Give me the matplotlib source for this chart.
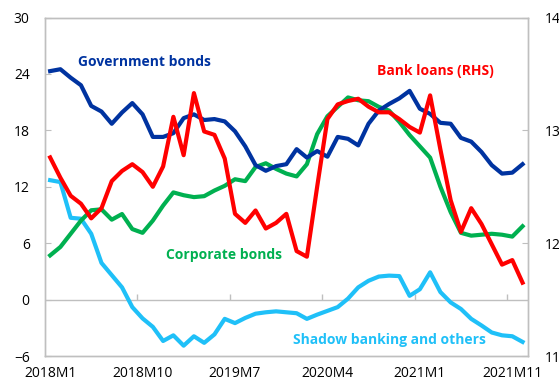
import matplotlib.pyplot as plt

plt.rcParams['font.family'] = ['Open Sans', 'DejaVu Sans']

# Monthly data 2018M1 .. 2021M11 (47 months)
months = list(range(47))

gov_bonds = [24.3, 24.5, 23.6, 22.8, 20.6, 20.0, 18.7, 19.9, 20.9, 19.7,
             17.3, 17.3, 17.7, 19.3, 19.7, 19.1, 19.2, 18.95, 17.9, 16.3,
             14.3, 13.7, 14.2, 14.4, 16.0, 15.1, 15.8, 15.2, 17.3, 17.1,
             16.4, 18.7, 20.1, 20.8, 21.4, 22.2, 20.3, 19.75, 18.8, 18.7,
             17.2, 16.8, 15.7, 14.3, 13.4, 13.5, 14.4]

corp_bonds = [4.7, 5.6, 7.0, 8.4, 9.5, 9.6, 8.5, 9.1, 7.5, 7.1,
              8.4, 10.0, 11.4, 11.1, 10.9, 11.0, 11.6, 12.1, 12.8, 12.6,
              14.1, 14.5, 13.9, 13.4, 13.1, 14.4, 17.6, 19.5, 20.5, 21.5,
              21.2, 21.1, 20.5, 20.1, 18.9, 17.5, 16.3, 15.1, 12.0, 9.3,
              7.1, 6.8, 6.9, 7.0, 6.9, 6.7, 7.8]

shadow = [12.7, 12.5, 8.7, 8.6, 7.0, 3.9, 2.6, 1.3, -0.8, -2.0,
          -2.9, -4.4, -3.8, -4.9, -3.9, -4.6, -3.7, -2.05, -2.5, -1.95,
          -1.5, -1.35, -1.25, -1.35, -1.45, -2.05, -1.6, -1.2, -0.8, 0.1,
          1.3, 2.0, 2.45, 2.55, 2.5, 0.4, 1.1, 2.9, 0.8, -0.3,
          -1.0, -2.05, -2.75, -3.5, -3.8, -3.9, -4.5]

# Bank loans, right-hand scale
bank_loans = [12.76, 12.58, 12.42, 12.35, 12.22, 12.31, 12.55, 12.64, 12.70, 12.63,
              12.50, 12.68, 13.12, 12.78, 13.33, 12.99, 12.96, 12.75, 12.26, 12.18,
              12.29, 12.13, 12.18, 12.26, 11.93, 11.88, 12.50, 13.10, 13.23, 13.26,
              13.28, 13.21, 13.16, 13.16, 13.10, 13.03, 12.98, 13.31, 12.83, 12.38,
              12.10, 12.31, 12.17, 11.99, 11.81, 11.85, 11.65]

tick_pos = [0, 9, 18, 27, 36, 45]
tick_labels = ['2018M1', '2018M10', '2019M7', '2020M4', '2021M1', '2021M11']

blue = '#0033A0'
green = '#00B050'
cyan = '#1FC0F8'
red = '#FF0000'
grey = '#BFBFBF'

fig = plt.figure(figsize=(5.59, 3.85), dpi=100)
ax = fig.add_axes([0.0805, 0.0753, 0.8635, 0.8792])
ax2 = ax.twinx()

ax.plot(months, shadow, color=cyan, lw=3, solid_joinstyle='round', zorder=3)
ax.plot(months, corp_bonds, color=green, lw=3, solid_joinstyle='round', zorder=3)
ax.plot(months, gov_bonds, color=blue, lw=3, solid_joinstyle='round', zorder=3)
ax2.plot(months, bank_loans, color=red, lw=3, solid_joinstyle='round', zorder=4)

ax.set_xlim(-0.5, 46.5)
ax.set_ylim(-6, 30)
ax.set_yticks([-6, 0, 6, 12, 18, 24, 30])
ax2.set_ylim(11, 14)
ax2.set_yticks([11, 12, 13, 14])

# zero line with small category ticks on it
ax.axhline(0, color=grey, lw=1, zorder=1)
ax.vlines([p - 0.5 for p in tick_pos[1:]], 0, 0.55, color=grey, lw=1, zorder=1)

ax.set_xticks(tick_pos)
ax.set_xticklabels(tick_labels)
ax.tick_params(axis='x', length=0, pad=7, labelsize=10, colors='#000000')
ax.tick_params(axis='y', direction='in', length=4, color=grey, pad=11, labelsize=10)
ax2.tick_params(axis='y', direction='in', length=4, color=grey, pad=12, labelsize=10)

for a in (ax, ax2):
    for s in a.spines.values():
        s.set_color(grey)
        s.set_linewidth(1)

ax.text(2.7, 25.3, 'Government bonds', color=blue, fontsize=10,
        fontweight='bold', va='center', ha='left')
ax.text(31.8, 24.3, 'Bank loans (RHS)', color=red, fontsize=10,
        fontweight='bold', va='center', ha='left')
ax.text(11.3, 4.7, 'Corporate bonds', color=green, fontsize=10,
        fontweight='bold', va='center', ha='left')
ax.text(23.6, -4.25, 'Shadow banking and others', color=cyan, fontsize=10,
        fontweight='bold', va='center', ha='left')

fig.savefig('out.png', dpi=100)
